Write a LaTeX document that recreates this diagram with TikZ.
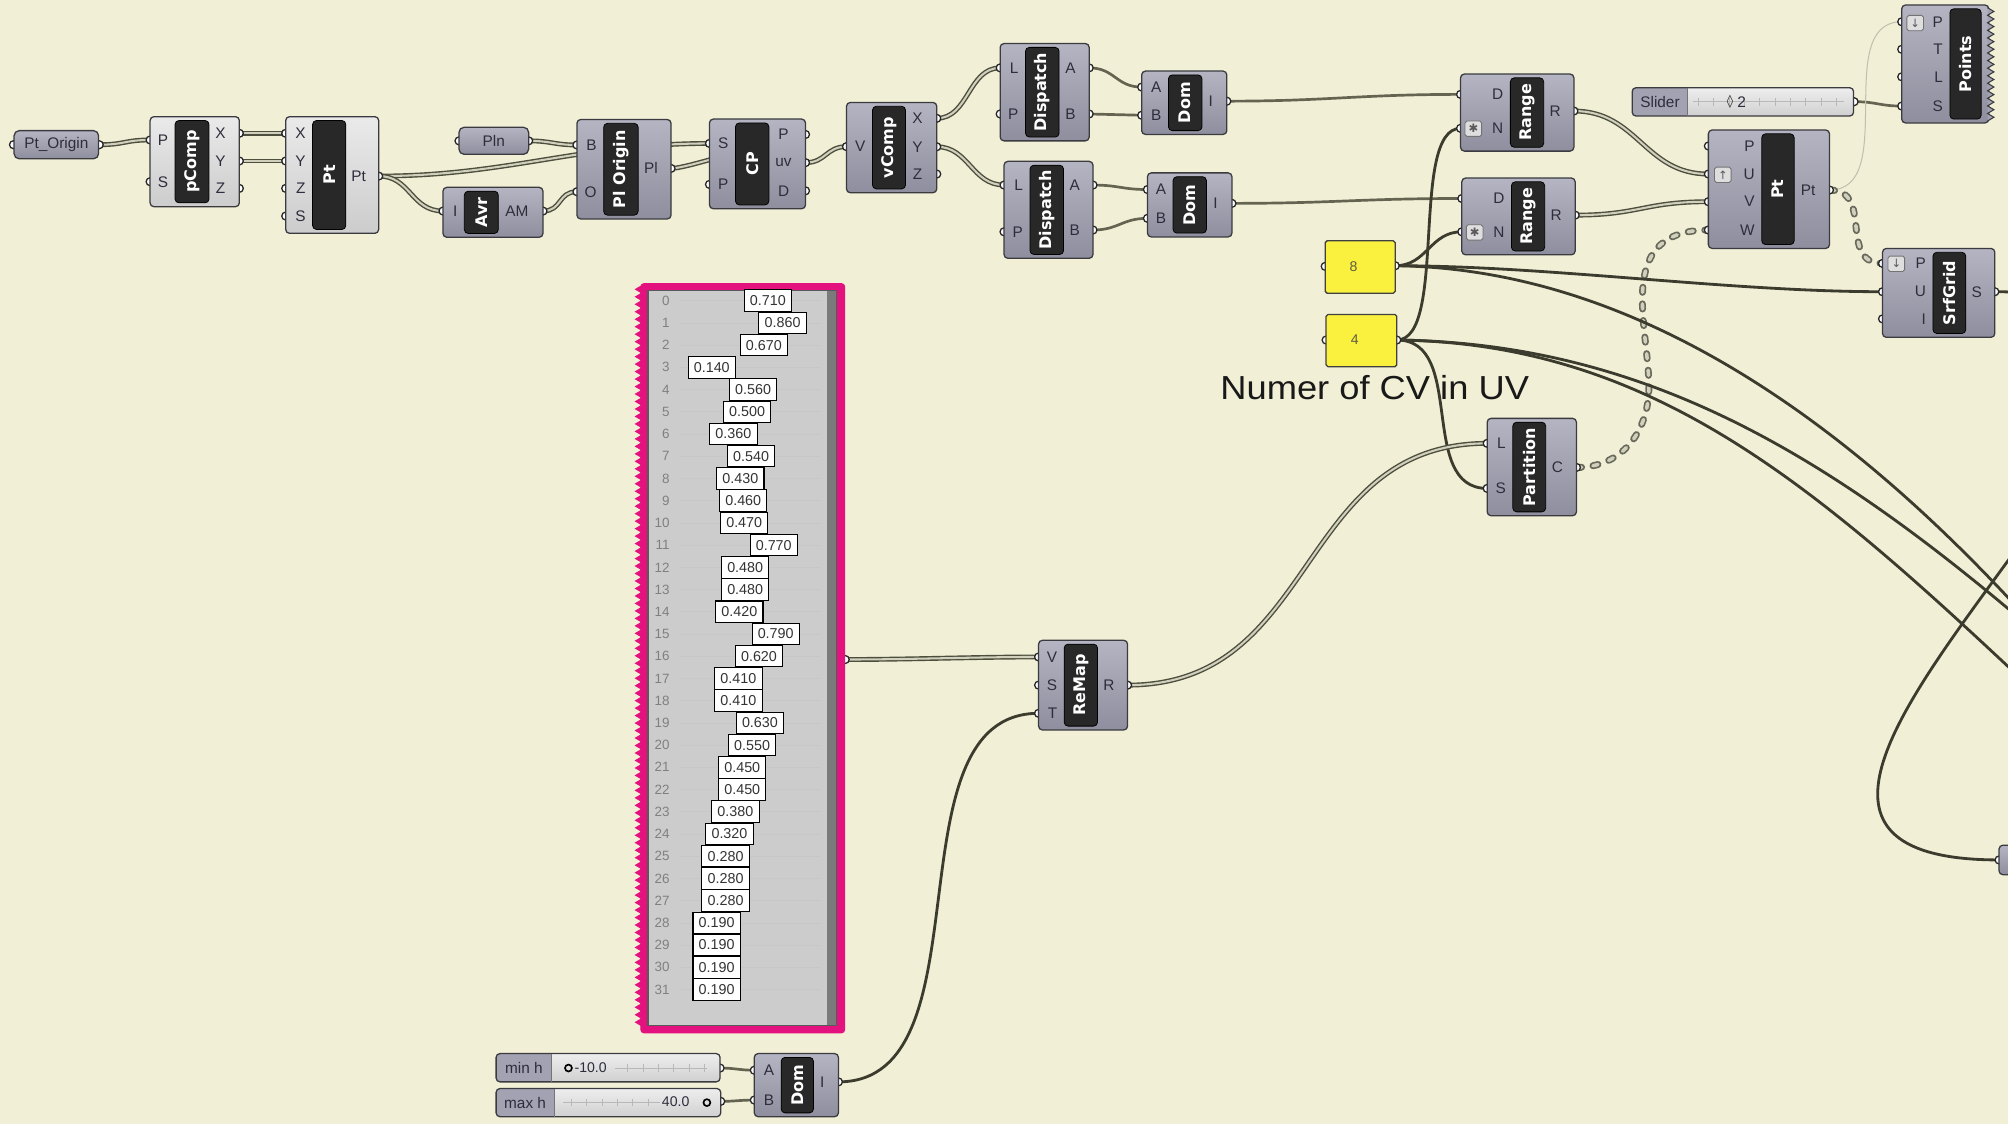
\documentclass[tikz,border=0pt]{standalone}
\usepackage{fontspec}
\setmainfont{Liberation Sans}
\newfontfamily\dvs{DejaVu Sans}
\usetikzlibrary{fit,calc}
\pgfdeclarelayer{bg}
\pgfdeclarelayer{wires}
\pgfdeclarelayer{nubs}
\pgfsetlayers{bg,wires,nubs,main}
\definecolor{canvas}{RGB}{241,239,213}
\definecolor{bodytop}{RGB}{180,180,194}
\definecolor{bodybot}{RGB}{142,142,158}
\definecolor{bodyline}{RGB}{58,58,64}
\definecolor{lighttop}{RGB}{234,234,234}
\definecolor{lightbot}{RGB}{204,204,204}
\definecolor{barcol}{RGB}{40,40,40}
\definecolor{portcol}{RGB}{45,45,60}
\definecolor{wiredark}{RGB}{78,78,62}
\definecolor{wirelight}{RGB}{208,208,188}
\definecolor{wiresingle}{RGB}{60,60,46}
\definecolor{wireolive}{RGB}{100,100,80}
\definecolor{gpPink}{RGB}{228,18,126}
\definecolor{gpGrey}{RGB}{204,204,204}
\definecolor{gpStrip}{RGB}{122,122,122}
\definecolor{yel}{RGB}{250,241,62}
\definecolor{slidetop}{RGB}{238,238,238}
\definecolor{slidebot}{RGB}{208,208,208}
\definecolor{slidelbl}{RGB}{162,162,178}
\definecolor{icongrey}{RGB}{222,222,222}

\tikzset{
  compbody/.style={draw=bodyline, line width=1pt, rounded corners=3pt, top color=bodytop, bottom color=bodybot, inner sep=0pt},
  lightbody/.style={draw=bodyline, line width=1pt, rounded corners=3pt, top color=lighttop, bottom color=lightbot, inner sep=0pt},
  parambox/.style={draw=bodyline, line width=1pt, rounded corners=4pt, top color=bodytop, bottom color=bodybot, inner sep=0pt},
  sliderbody/.style={top color=slidetop, bottom color=slidebot, rounded corners=3pt, inner sep=0pt},
  yelbox/.style={draw=black!75, line width=1pt, fill=yel, rounded corners=1.5pt, inner sep=0pt},
  titlebar/.style={fill=barcol, draw=black, line width=0.6pt, rounded corners=3pt, inner sep=0pt},
  titletext/.style={text=white, font=\dvs\bfseries\fontsize{12.5}{12.5}\selectfont, rotate=90, inner sep=0pt},
  portlbl/.style={text=portcol, font=\fontsize{12}{12}\selectfont, inner sep=0pt},
  nub/.style={draw=black!85, fill=white, line width=1pt},
  iconbox/.style={draw=black!55, fill=icongrey, line width=0.7pt, rounded corners=1.5pt, minimum width=13pt, minimum height=12pt, inner sep=0pt, text=black!65, font=\dvs\fontsize{9}{9}\selectfont},
  wire2/.style={draw=wiredark, line width=1.1pt, double=wirelight, double distance=1.6pt},
  wire1/.style={draw=wiresingle, line width=2.2pt},
  wire1s/.style={draw=wireolive, line width=2.1pt},
  wiredash/.style={draw=wiredark!85, line width=1.3pt, double=wirelight, double distance=2.8pt, dash pattern=on 4pt off 9pt, line cap=round},
  wirefaint/.style={draw=wirelight!80!gray, line width=0.8pt},
  gpval/.style={draw=black, fill=white, line width=0.8pt, minimum width=37pt, minimum height=16.8pt, inner sep=0pt, text=black!80, font=\fontsize{11.2}{11.2}\selectfont},
  gpidx/.style={text=black!50, font=\fontsize{10.5}{10.5}\selectfont, inner sep=0pt, anchor=east},
  gptrack/.style={draw=black!22, line width=0.5pt},
  tickline/.style={draw=black!28, line width=0.5pt},
}

\newcommand{\ghbox}[6]{\node[#6, fit={(#2,#3) (#4,#5)}] (#1) {};}
\newcommand{\ghbar}[6]{%
  \node[titlebar, fit={(#2,#3) (#4,#5)}] (#1-bar) {};
  \node[titletext] at (#1-bar.center) {#6};}
\newcommand{\ghnub}[4]{%
  \coordinate (#1-#2) at (#3,#4);
  \begin{pgfonlayer}{nubs}\filldraw[nub] (#3,#4) circle[radius=3.1];\end{pgfonlayer}}
\newcommand{\ghin}[5]{\ghnub{#1}{#2}{#3}{#4}%
  \node[portlbl, anchor=east, xshift=-5pt] at (#1-bar.west |- #1-#2) {#5};}
\newcommand{\ghout}[5]{\ghnub{#1}{#2}{#3}{#4}%
  \node[portlbl, xshift=-3pt] at ($(#1-bar.east |- #1-#2)!0.5!(#1-#2)$) {#5};}
\newcommand{\ghslider}[7]{%
  \node[sliderbody, fit={(#2,#3) (#4,#5)}] (#1) {};
  \begin{scope}
    \clip[rounded corners=3pt] (#2,#3) rectangle (#4,#5);
    \fill[slidelbl] (#2,#3) rectangle (#6,#5);
  \end{scope}
  \draw[bodyline, line width=1pt, rounded corners=3pt] (#2,#3) rectangle (#4,#5);
  \draw[bodyline!70, line width=0.8pt] (#6,#3) -- (#6,#5);
  \node[portlbl] at ({(#2+#6)/2},{(#3+#5)/2}) {#7};}
\newcommand{\ghw}[4][wire1]{\draw[#1] (#2) .. controls +(#4,0) and +(-#4,0) .. (#3);}

\begin{document}
\begin{tikzpicture}[x=1pt,y=-1pt]
\useasboundingbox (0,0) rectangle (1568,878);
\begin{pgfonlayer}{bg}
  \fill[canvas] (0,0) rectangle (1568,878);
\end{pgfonlayer}

% ---------- Pt_Origin ----------
\ghbox{ptorig}{11}{102}{77}{124}{parambox}
\node[portlbl] at (ptorig.center) {Pt\_Origin};
\ghnub{ptorig}{in}{10.5}{113}
\ghnub{ptorig}{out}{77.5}{113}

% ---------- pComp ----------
\ghbox{pcomp}{117.2}{91.1}{186.9}{161.4}{lightbody}
\ghbar{pcomp}{136.7}{94.1}{163.2}{158.4}{pComp}
\ghin{pcomp}{P}{117.2}{109.3}{P}
\ghin{pcomp}{S}{117.2}{141.9}{S}
\ghout{pcomp}{X}{186.9}{104.1}{X}
\ghout{pcomp}{Y}{186.9}{125.7}{Y}
\ghout{pcomp}{Z}{186.9}{147.1}{Z}

% ---------- Pt (1) ----------
\ghbox{pta}{223.1}{91.1}{295.7}{182.2}{lightbody}
\ghbar{pta}{244.1}{94.1}{270}{179.2}{Pt}
\ghin{pta}{X}{223.1}{104.1}{X}
\ghin{pta}{Y}{223.1}{125.7}{Y}
\ghin{pta}{Z}{223.1}{147.1}{Z}
\ghin{pta}{S}{223.1}{168.7}{S}
\ghout{pta}{Pt}{295.7}{137.5}{Pt}

% ---------- Pln ----------
\ghbox{pln}{358.4}{99.4}{412.8}{120.5}{parambox}
\node[portlbl] at (pln.center) {Pln};
\ghnub{pln}{in}{358.4}{110}
\ghnub{pln}{out}{412.8}{110}

% ---------- Avr ----------
\ghbox{avr}{345.9}{146.3}{424}{185.3}{compbody}
\ghbar{avr}{362.6}{149.3}{389.1}{182.3}{Avr}
\ghin{avr}{I}{345.9}{164.8}{I}
\ghout{avr}{AM}{424}{164.8}{AM}

% ---------- Pl Origin ----------
\ghbox{plo}{450.5}{93.3}{524}{171}{compbody}
\ghbar{plo}{471.4}{96.3}{498.3}{168}{Pl Origin}
\ghin{plo}{B}{450.5}{113.2}{B}
\ghin{plo}{O}{450.5}{149.7}{O}
\ghout{plo}{Pl}{524}{131.5}{Pl}

% ---------- CP ----------
\ghbox{cp}{554}{93}{629}{163}{compbody}
\ghbar{cp}{574.3}{96}{600.4}{160}{CP}
\ghin{cp}{S}{554}{112}{S}
\ghin{cp}{P}{554}{144}{P}
\ghout{cp}{P}{629}{105}{P}
\ghout{cp}{uv}{629}{127}{uv}
\ghout{cp}{D}{629}{149}{D}

% ---------- vComp ----------
\ghbox{vc}{661}{80}{731.5}{150.5}{compbody}
\ghbar{vc}{681.3}{83}{707.1}{147.5}{vComp}
\ghin{vc}{V}{661}{114.5}{V}
\ghout{vc}{X}{731.5}{92.4}{X}
\ghout{vc}{Y}{731.5}{114.6}{Y}
\ghout{vc}{Z}{731.5}{135.9}{Z}

% ---------- Dispatch (1) ----------
\ghbox{dpa}{781}{34}{850.5}{110}{compbody}
\ghbar{dpa}{800.8}{37}{827}{107}{Dispatch}
\ghin{dpa}{L}{781}{53}{L}
\ghin{dpa}{P}{781}{89}{P}
\ghout{dpa}{A}{850.5}{53}{A}
\ghout{dpa}{B}{850.5}{89}{B}

% ---------- Dom (1) ----------
\ghbox{doma}{891.5}{55.5}{958}{105}{compbody}
\ghbar{doma}{912.4}{58.5}{938.6}{102}{Dom}
\ghin{doma}{A}{891.5}{68}{A}
\ghin{doma}{B}{891.5}{90}{B}
\ghout{doma}{I}{958}{79}{I}

% ---------- Dispatch (2) ----------
\ghbox{dpb}{784}{126}{853.5}{201.7}{compbody}
\ghbar{dpb}{804.3}{129}{830.5}{198.7}{Dispatch}
\ghin{dpb}{L}{784}{144.5}{L}
\ghin{dpb}{P}{784}{181}{P}
\ghout{dpb}{A}{853.5}{144.5}{A}
\ghout{dpb}{B}{853.5}{179.6}{B}

% ---------- Dom (2) ----------
\ghbox{domb}{896}{135}{962}{185}{compbody}
\ghbar{domb}{916}{138}{942.1}{182}{Dom}
\ghin{domb}{A}{896}{148}{A}
\ghin{domb}{B}{896}{170.5}{B}
\ghout{domb}{I}{962}{158.8}{I}

% ---------- Range (1) ----------
\ghbox{rga}{1140.5}{57.8}{1229}{118}{compbody}
\ghbar{rga}{1179.4}{60.8}{1205.4}{115}{Range}
\ghin{rga}{D}{1140.5}{73.7}{D}
\ghin{rga}{N}{1140.5}{100.2}{N}
\ghout{rga}{R}{1229}{86.7}{R}
\node[iconbox] (rga-icon) at (1150.5,100.5) {✱};

% ---------- Range (2) ----------
\ghbox{rgb}{1141.5}{139}{1230}{199}{compbody}
\ghbar{rgb}{1180.2}{142}{1206.2}{196}{Range}
\ghin{rgb}{D}{1141.5}{155}{D}
\ghin{rgb}{N}{1141.5}{181}{N}
\ghout{rgb}{R}{1230}{168}{R}
\node[iconbox] (rgb-icon) at (1151.5,181.5) {✱};

% ---------- Slider ----------
\ghslider{sld}{1274.5}{68.5}{1447.4}{90.6}{1318}{Slider}
\draw[tickline] (1322,79.5) -- (1440,79.5);
\foreach \t in {1326,1338,...,1438} {\draw[tickline] (\t,76.5) -- (\t,82.5);}
\node[font=\dvs\fontsize{10}{10}\selectfont, text=black!85, inner sep=0pt] (sld-dia) at (1351,79.5) {◊};
\node[portlbl, anchor=west] (sld-val) at (1356.5,79.5) {2};
\ghnub{sld}{out}{1447.8}{79.4}

% ---------- Points ----------
\ghbox{pts}{1485}{3.9}{1553}{96}{compbody}
\filldraw[fill=bodytop!50!bodybot, draw=bodyline, line width=0.8pt] (1552,6)
  \foreach \k in {0,...,14} { -- (1557,{6+5.9*\k+2.95}) -- (1552,{6+5.9*(\k+1)}) };
\ghbar{pts}{1522.6}{6.9}{1547}{93}{Points}
\ghin{pts}{P}{1485}{17}{P}
\ghin{pts}{T}{1485}{38.5}{T}
\ghin{pts}{L}{1485}{60}{L}
\ghin{pts}{S}{1485}{82.8}{S}
\node[iconbox] (pts-icon) at (1495.5,18) {↓};

% ---------- Pt (2) ----------
\ghbox{ptb}{1334}{101.5}{1428.6}{194}{compbody}
\ghbar{ptb}{1375.7}{104.5}{1401}{191}{Pt}
\ghin{ptb}{P}{1334}{114}{P}
\ghin{ptb}{U}{1334}{135.9}{U}
\ghin{ptb}{V}{1334}{157.5}{V}
\ghin{ptb}{W}{1334}{179.6}{W}
\ghout{ptb}{Pt}{1428.6}{148.4}{Pt}
\node[iconbox] (ptb-icon) at (1345.3,136.5) {↑};

% ---------- SrfGrid ----------
\ghbox{srf}{1470}{194}{1557.7}{263.4}{compbody}
\ghbar{srf}{1509.4}{197}{1535}{260.4}{SrfGrid}
\ghin{srf}{P}{1470}{205.7}{P}
\ghin{srf}{U}{1470}{227.8}{U}
\ghin{srf}{I}{1470}{249}{I}
\ghout{srf}{S}{1557.7}{227.8}{S}
\node[iconbox] (srf-icon) at (1480.8,206) {↓};

% ---------- number panels ----------
\ghbox{ya}{1034.8}{188}{1089.5}{229}{yelbox}
\node[text=black!55!yellow!60!black, font=\fontsize{11}{11}\selectfont, inner sep=0pt] at (1057,208) {8};
\ghnub{ya}{in}{1034.8}{208}
\ghnub{ya}{out}{1089.5}{207.5}
\ghbox{yb}{1035.5}{245.5}{1090.7}{286.4}{yelbox}
\node[text=black!55!yellow!60!black, font=\fontsize{11}{11}\selectfont, inner sep=0pt] at (1058,265) {4};
\ghnub{yb}{in}{1035.5}{265.5}
\ghnub{yb}{out}{1090.7}{265.5}

% ---------- scribble ----------
\node[anchor=base west, inner sep=0pt, font=\fontsize{26}{26}\selectfont, text=black!90] (note) at (952.8,312)
  {\scalebox{1.09}[1]{Numer of CV in UV}};

% ---------- Partition ----------
\ghbox{part}{1161.3}{326.7}{1231}{402.7}{compbody}
\ghbar{part}{1181.3}{329.7}{1207}{399.7}{Partition}
\ghin{part}{L}{1161.3}{346.2}{L}
\ghin{part}{S}{1161.3}{381.4}{S}
\ghout{part}{C}{1231}{365}{C}

% ---------- ReMap ----------
\ghbox{remap}{811}{500}{880.5}{570}{compbody}
\ghbar{remap}{831}{503}{857}{567}{ReMap}
\ghin{remap}{V}{811}{513}{V}
\ghin{remap}{S}{811}{535}{S}
\ghin{remap}{T}{811}{557}{T}
\ghout{remap}{R}{880.5}{535}{R}

% ---------- Gene pool ----------
\fill[gpPink, rounded corners=3pt] (500,221) rectangle (660,807);
\fill[gpPink] (500.5,223)
  \foreach \k in {0,...,98} { -- (495.5,{223+5.84*\k+2.92}) -- (500.5,{223+5.84*(\k+1)}) } -- (500.5,805) -- cycle;
\node[inner sep=0pt, fit={(496,221) (660,807)}] (gp) {};
\fill[gpGrey] (506,227) rectangle (653,801);
\fill[gpStrip] (645.5,227.5) rectangle (653,800.5);
\draw[black!65, line width=0.8pt] (506,227) rectangle (653,801);
\ghnub{gp}{out}{660}{515}
\foreach \v [count=\i from 0] in {0.710,0.860,0.670,0.140,0.560,0.500,0.360,0.540,0.430,0.460,0.470,0.770,0.480,0.480,0.420,0.790,0.620,0.410,0.410,0.630,0.550,0.450,0.450,0.380,0.320,0.280,0.280,0.280,0.190,0.190,0.190,0.190}{
  \draw[gptrack] (530,{234.8+17.35*\i}) -- (641,{234.8+17.35*\i});
  \node[gpidx] at (523,{234.8+17.35*\i}) {\i};
  \node[gpval] at ({545.05+76.8*\v},{234.8+17.35*\i}) {\v};
}

% ---------- min h / max h ----------
\ghslider{minh}{387.4}{822.7}{562.3}{844.8}{430.9}{min h}
\draw[tickline] (480,834) -- (552,834);
\foreach \t in {490,502,...,550} {\draw[tickline] (\t,831) -- (\t,837);}
\draw[black, line width=1.3pt] (443.9,834) circle[radius=2.7];
\node[portlbl, anchor=west, font=\fontsize{11}{11}\selectfont] (minh-val) at (448.5,833.5) {-10.0};
\ghnub{minh}{out}{562.3}{834}
\ghslider{maxh}{387.4}{850}{562.8}{872}{432.7}{max h}
\draw[tickline] (440,861) -- (515,861);
\foreach \t in {446,458,...,512} {\draw[tickline] (\t,858) -- (\t,864);}
\draw[black, line width=1.3pt] (552,861) circle[radius=2.7];
\node[portlbl, anchor=east, font=\fontsize{11}{11}\selectfont] (maxh-val) at (538.5,860.5) {40.0};
\ghnub{maxh}{out}{562.8}{860}

% ---------- Dom (3) ----------
\ghbox{domc}{589}{822.7}{654.7}{872}{compbody}
\ghbar{domc}{610}{825.7}{635.2}{869}{Dom}
\ghin{domc}{A}{589}{835.7}{A}
\ghin{domc}{B}{589}{859}{B}
\ghout{domc}{I}{654.7}{844.8}{I}

% ---------- partial component at right edge ----------
\ghbox{br}{1561}{660}{1600}{683}{compbody}
\ghnub{br}{in}{1561}{671.5}

% ---------- off-canvas targets ----------
\coordinate (off8) at (1620,525);
\coordinate (off4a) at (1620,520);
\coordinate (off4b) at (1610,560);

% ---------- wires ----------
\begin{pgfonlayer}{wires}
\clip (0,0) rectangle (1568,878);
\ghw[wire2]{ptorig-out}{pcomp-P}{20}
\ghw[wire2]{pcomp-X}{pta-X}{15}
\ghw[wire2]{pcomp-Y}{pta-Y}{15}
\ghw[wire2]{pta-Pt}{cp-S}{100}
\ghw[wire2]{pta-Pt}{avr-I}{25}
\ghw[wire2]{pln-out}{plo-B}{18}
\ghw[wire2]{avr-AM}{plo-O}{15}
\ghw[wire2]{plo-Pl}{cp-P}{15}
\ghw[wire2]{cp-uv}{vc-V}{16}
\ghw[wire2]{vc-X}{dpa-L}{25}
\ghw[wire2]{vc-Y}{dpb-L}{25}
\ghw[wire1s]{dpa-A}{doma-A}{20}
\ghw[wire1s]{dpa-B}{doma-B}{20}
\ghw[wire1s]{dpb-A}{domb-A}{20}
\ghw[wire1s]{dpb-B}{domb-B}{20}
\ghw[wire1s]{doma-I}{rga-D}{80}
\ghw[wire1s]{domb-I}{rgb-D}{80}
\ghw[wire2]{rga-R}{ptb-U}{50}
\ghw[wire2]{rgb-R}{ptb-V}{50}
\ghw[wire1s]{sld-out}{pts-S}{18}
\ghw[wirefaint]{ptb-Pt}{pts-P}{55}
\ghw[wiredash]{ptb-Pt}{srf-P}{35}
\draw[wiredash] (part-C) .. controls (1268,365) and (1289,335) .. (1287.5,298)
  .. controls (1286,250) and (1262,180) .. (ptb-W);
\ghw[wire1]{ya-out}{rgb-N}{25}
\ghw[wire1]{ya-out}{srf-U}{120}
\draw[wire1] (ya-out) .. controls (1300,210) and (1480,360) .. (off8);
\ghw[wire1]{yb-out}{rga-N}{40}
\ghw[wire1]{yb-out}{part-S}{55}
\draw[wire1] (yb-out) .. controls (1300,268) and (1450,370) .. (off4a);
\draw[wire1] (yb-out) .. controls (1300,268) and (1430,390) .. (off4b);
\ghw[wire2]{remap-R}{part-L}{150}
\ghw[wire2]{gp-out}{remap-V}{50}
\ghw[wire1]{domc-I}{remap-T}{120}
\ghw[wire1s]{minh-out}{domc-A}{12}
\ghw[wire1s]{maxh-out}{domc-B}{12}
\ghw[wire1]{srf-S}{br-in}{327}
\end{pgfonlayer}
\end{tikzpicture}
\end{document}
